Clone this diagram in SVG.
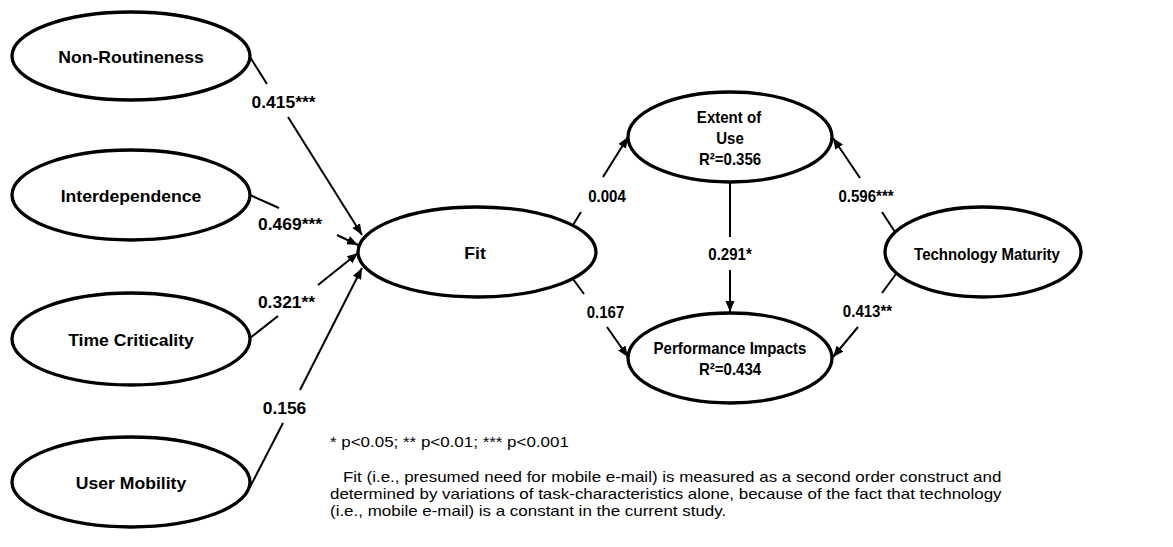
<svg xmlns="http://www.w3.org/2000/svg" width="1173" height="547" viewBox="0 0 1173 547">
  <style>
    .node { fill: #ffffff; stroke: #000000; stroke-width: 3.3; }
    .lbl { font-family: "Liberation Sans", Arial, sans-serif; font-weight: bold; font-size: 16px; fill: #000000; text-anchor: middle; }
    .coef { font-family: "Liberation Sans", Arial, sans-serif; font-weight: bold; font-size: 16px; fill: #000000; text-anchor: middle; }
    .note { font-family: "Liberation Sans", Arial, sans-serif; font-size: 15px; fill: #000000; }
    .edge { stroke: #000000; stroke-width: 2; fill: none; }
    .tip { marker-end: url(#arrow); }
  </style>
  <defs>
    <marker id="arrow" markerUnits="userSpaceOnUse" markerWidth="12" markerHeight="10" refX="11" refY="4.5" orient="auto">
      <path d="M0,0 L11,4.5 L0,9 Z" fill="#000000"/>
    </marker>
  </defs>

  <!-- Paths between constructs: each path is split where its coefficient sits -->
  <g id="connectors">
    <line class="edge" x1="250" y1="57" x2="267" y2="84"/>
    <line class="edge tip" x1="288" y1="117" x2="362" y2="235"/>

    <line class="edge" x1="250" y1="195" x2="279" y2="208"/>
    <line class="edge tip" x1="337" y1="235" x2="358" y2="245"/>

    <line class="edge" x1="250" y1="338" x2="278" y2="316"/>
    <line class="edge tip" x1="318" y1="285" x2="358" y2="253"/>

    <line class="edge" x1="250" y1="487" x2="283" y2="423"/>
    <line class="edge tip" x1="300" y1="390" x2="362" y2="268"/>

    <line class="edge" x1="573" y1="225" x2="581" y2="212"/>
    <line class="edge tip" x1="603" y1="177" x2="628" y2="137"/>

    <line class="edge" x1="573" y1="279" x2="584" y2="294"/>
    <line class="edge tip" x1="607" y1="327" x2="628" y2="357"/>

    <line class="edge" x1="730" y1="183" x2="730" y2="237"/>
    <line class="edge tip" x1="730" y1="270" x2="730" y2="312"/>

    <line class="edge" x1="895" y1="232" x2="882" y2="212"/>
    <line class="edge tip" x1="860" y1="178" x2="833" y2="138"/>

    <line class="edge" x1="896" y1="274" x2="882" y2="293"/>
    <line class="edge tip" x1="858" y1="327" x2="833" y2="357"/>
  </g>

  <!-- Path coefficients -->
  <g id="coefficients">
    <text class="coef" transform="translate(283.5,107.5) scale(1.09,1)">0.415***</text>
    <text class="coef" transform="translate(290,230) scale(1.09,1)">0.469***</text>
    <text class="coef" transform="translate(286.5,308) scale(1.09,1)">0.321**</text>
    <text class="coef" transform="translate(284.5,414) scale(1.09,1)">0.156</text>
    <text class="coef" transform="translate(607,202) scale(0.94,1)">0.004</text>
    <text class="coef" transform="translate(605.5,318) scale(0.94,1)">0.167</text>
    <text class="coef" transform="translate(730,260) scale(0.94,1)">0.291*</text>
    <text class="coef" transform="translate(866,202) scale(0.94,1)">0.596***</text>
    <text class="coef" transform="translate(867.5,317) scale(0.94,1)">0.413**</text>
  </g>

  <g id="non-routineness">
    <ellipse class="node" cx="131" cy="56" rx="119" ry="44"/>
    <text class="lbl" transform="translate(131,63) scale(1.1,1)">Non-Routineness</text>
  </g>
  <g id="interdependence">
    <ellipse class="node" cx="131" cy="195" rx="119" ry="45"/>
    <text class="lbl" transform="translate(131,202) scale(1.1,1)">Interdependence</text>
  </g>
  <g id="time-criticality">
    <ellipse class="node" cx="131" cy="339" rx="119" ry="46"/>
    <text class="lbl" transform="translate(131,346) scale(1.1,1)">Time Criticality</text>
  </g>
  <g id="user-mobility">
    <ellipse class="node" cx="131" cy="482" rx="119" ry="45"/>
    <text class="lbl" transform="translate(131,489) scale(1.1,1)">User Mobility</text>
  </g>
  <g id="fit">
    <ellipse class="node" cx="477" cy="252" rx="119" ry="45"/>
    <text class="lbl" transform="translate(475,259) scale(1.1,1)">Fit</text>
  </g>
  <g id="extent-of-use">
    <ellipse class="node" cx="730" cy="137" rx="102" ry="45"/>
    <text class="lbl" transform="translate(729,123) scale(0.94,1)">Extent of</text>
    <text class="lbl" transform="translate(730,144) scale(0.94,1)">Use</text>
    <text class="lbl" transform="translate(730,165) scale(0.94,1)">R²=0.356</text>
  </g>
  <g id="performance-impacts">
    <ellipse class="node" cx="730" cy="358" rx="102" ry="45"/>
    <text class="lbl" transform="translate(730,354) scale(0.94,1)">Performance Impacts</text>
    <text class="lbl" transform="translate(730,375) scale(0.94,1)">R²=0.434</text>
  </g>
  <g id="technology-maturity">
    <ellipse class="node" cx="983" cy="252" rx="98" ry="45"/>
    <text class="lbl" transform="translate(987,260) scale(0.94,1)">Technology Maturity</text>
  </g>

  <!-- Significance legend and note on the Fit construct -->
  <g id="notes">
    <text class="note" transform="translate(330,447) scale(1.13,1)">* p&lt;0.05; ** p&lt;0.01; *** p&lt;0.001</text>
    <text class="note" transform="translate(343,482) scale(1.13,1)">Fit (i.e., presumed need for mobile e-mail) is measured as a second order construct and</text>
    <text class="note" transform="translate(330,499) scale(1.13,1)">determined by variations of task-characteristics alone, because of the fact that technology</text>
    <text class="note" transform="translate(330,516) scale(1.13,1)">(i.e., mobile e-mail) is a constant in the current study.</text>
  </g>
</svg>
